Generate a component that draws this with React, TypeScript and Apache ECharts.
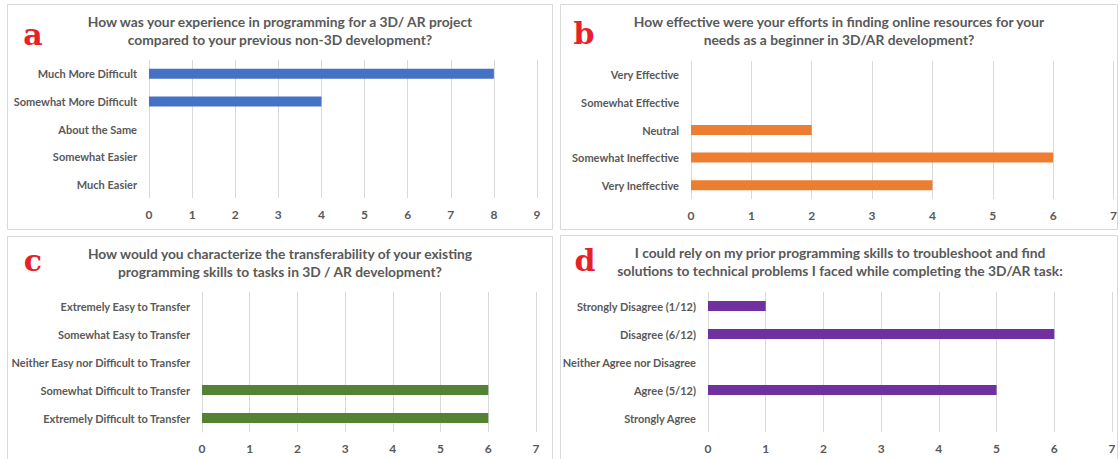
import React, { useEffect, useRef } from "react";
import * as echarts from "echarts";

// Survey answers, listed top to bottom as they appear on each axis
const catsA = ["Much More Difficult", "Somewhat More Difficult", "About the Same", "Somewhat Easier", "Much Easier"];
const valsA = [8, 4, 0, 0, 0];

const catsB = ["Very Effective", "Somewhat Effective", "Neutral", "Somewhat Ineffective", "Very Ineffective"];
const valsB = [0, 0, 2, 6, 4];

const catsC = [
  "Extremely Easy to Transfer",
  "Somewhat Easy to Transfer",
  "Neither Easy nor Difficult to Transfer",
  "Somewhat Difficult to Transfer",
  "Extremely Difficult to Transfer",
];
const valsC = [0, 0, 0, 6, 6];

const catsD = ["Strongly Disagree (1/12)", "Disagree (6/12)", "Neither Agree nor Disagree", "Agree (5/12)", "Strongly Agree"];
const valsD = [1, 6, 0, 5, 0];

const titleA = "How was your experience in programming for a 3D/ AR project\ncompared to your previous non-3D development?";
const titleB = "How effective were your efforts in finding online resources for your\nneeds as a beginner in 3D/AR development?";
const titleC = "How would you characterize the transferability of your existing\nprogramming skills to tasks in 3D / AR development?";
const titleD = "I could rely on my prior programming skills to troubleshoot and find\nsolutions to technical problems I faced while completing the 3D/AR task:";

const FONT = "Lato, 'Open Sans', sans-serif";
const TEXT = "#595959";
const GRID_LINE = "#d9d9d9";

const panels = [
  { cats: catsA, vals: valsA, max: 9, color: "#4472c4", grid: { left: 149, top: 60, width: 388, height: 138 } },
  { cats: catsB, vals: valsB, max: 7, color: "#ed7d31", grid: { left: 691, top: 61, width: 423, height: 138 } },
  { cats: catsC, vals: valsC, max: 7, color: "#548235", grid: { left: 202, top: 292, width: 334, height: 140 } },
  { cats: catsD, vals: valsD, max: 7, color: "#7030a0", grid: { left: 708, top: 292, width: 404, height: 140 } },
];

export default function App() {
  const ref = useRef<HTMLDivElement>(null);

  useEffect(() => {
    if (!ref.current) return;
    const chart = echarts.init(ref.current, undefined, { renderer: "svg" });

    const titles = [
      { text: titleA, x: 280, y: 12 },
      { text: titleB, x: 839, y: 12 },
      { text: titleC, x: 280, y: 244 },
      { text: titleD, x: 840, y: 243 },
    ].map((t) => ({
      text: t.text,
      left: t.x,
      top: t.y,
      textAlign: "center",
      padding: 0,
      textStyle: { fontFamily: FONT, fontSize: 13.8, fontWeight: "bold", color: TEXT, lineHeight: 18.5 },
    }));

    const letters = [
      { t: "a", x: 33, y: 42 },
      { t: "b", x: 584, y: 41 },
      { t: "c", x: 33, y: 268 },
      { t: "d", x: 585, y: 268 },
    ];

    const borders = [
      { x: 7.5, y: 4.5, w: 545, h: 225 },
      { x: 560.5, y: 4.5, w: 557, h: 225 },
      { x: 7.5, y: 236.5, w: 545, h: 230 },
      { x: 560.5, y: 235.5, w: 557, h: 230 },
    ];

    const graphic: any[] = [
      ...borders.map((b) => ({
        type: "rect",
        shape: { x: b.x, y: b.y, width: b.w, height: b.h },
        style: { fill: "#ffffff", stroke: "#d9d9d9", lineWidth: 1 },
        z: -10,
        silent: true,
      })),
      ...letters.map((l) => ({
        type: "text",
        x: l.x,
        y: l.y + 7,
        style: {
          text: l.t,
          font: "bold 30px 'DejaVu Serif', serif",
          fill: "#e62129",
          align: "center",
          verticalAlign: "bottom",
        },
      })),
    ];

    chart.setOption({
      animation: false,
      backgroundColor: "#ffffff",
      title: titles,
      graphic,
      grid: panels.map((p) => ({ ...p.grid, containLabel: false })),
      xAxis: panels.map((p, i) => ({
        type: "value",
        gridIndex: i,
        min: 0,
        max: p.max,
        interval: 1,
        axisLine: { show: false },
        axisTick: { show: false },
        splitLine: { show: true, lineStyle: { color: GRID_LINE, width: 1 } },
        axisLabel: { color: TEXT, fontFamily: FONT, fontSize: 12, fontWeight: "bold", margin: 10 },
      })),
      yAxis: panels.map((p, i) => ({
        type: "category",
        gridIndex: i,
        data: p.cats,
        inverse: true,
        axisLine: { show: false },
        axisTick: { show: false },
        splitLine: { show: false },
        axisLabel: { color: TEXT, fontFamily: FONT, fontSize: 11, fontWeight: "bold", margin: 12 },
      })),
      series: panels.map((p, i) => ({
        type: "bar",
        xAxisIndex: i,
        yAxisIndex: i,
        data: p.vals,
        barWidth: 10,
        itemStyle: { color: p.color },
        silent: true,
      })),
    });

    return () => chart.dispose();
  }, []);

  return (
    <div
      ref={ref}
      style={{ position: "fixed", left: 0, top: 0, width: 1120, height: 459, background: "#ffffff" }}
    />
  );
}
